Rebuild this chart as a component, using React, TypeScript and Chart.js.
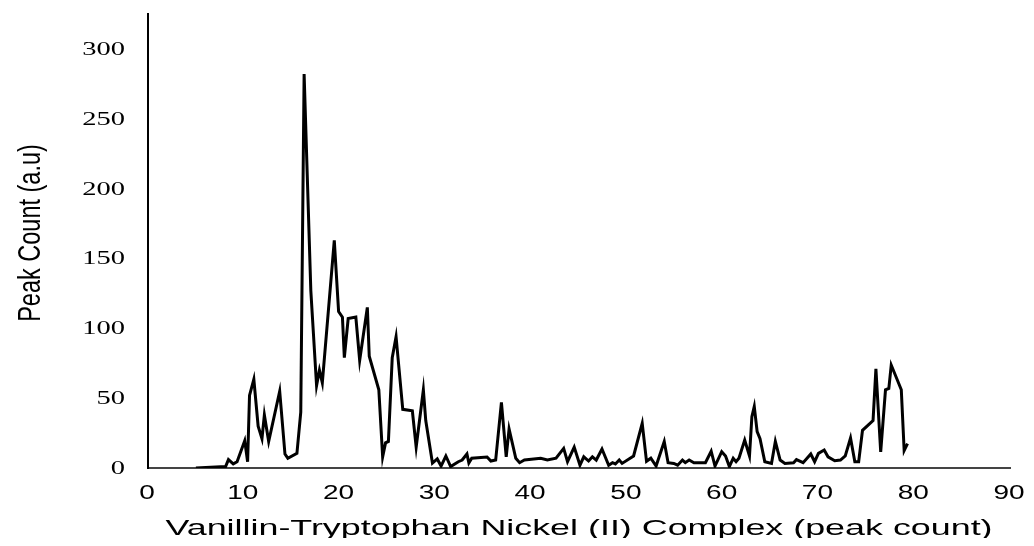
import React, { useEffect, useRef } from "react";
import { Chart, registerables } from "chart.js";

Chart.register(...registerables);

const xValues: number[] = [
  5.0, 8.1, 8.4, 8.9, 9.3, 10.1, 10.4, 10.6, 11.05, 11.5, 11.9, 12.15, 12.6, 13.75, 14.3, 14.6, 15.55, 15.95,
  16.3, 17.0, 17.6, 17.9, 18.2, 19.45, 19.9, 20.3, 20.5, 20.9, 21.7, 22.1, 22.9, 23.1, 24.1, 24.5, 24.8, 25.1,
  25.5, 25.9, 26.6, 27.6, 28.0, 28.75, 29.0, 29.7, 30.2, 30.6, 31.1, 31.6, 32.4, 32.8, 33.3, 33.5, 33.8, 35.4,
  35.8, 36.3, 36.9, 37.4, 37.7, 38.4, 38.8, 39.3, 41.0, 41.7, 42.6, 43.4, 43.8, 44.5, 45.1, 45.5, 46.0, 46.4,
  46.8, 47.4, 48.1, 48.5, 48.8, 49.2, 49.5, 50.7, 51.6, 52.05, 52.5, 53.05, 53.9, 54.3, 54.9, 55.3, 55.8, 56.1,
  56.5, 57.0, 58.2, 58.8, 59.2, 59.9, 60.3, 60.7, 61.1, 61.4, 61.7, 62.3, 62.8, 63.05, 63.3, 63.6, 63.9, 64.4,
  65.1, 65.5, 66.0, 66.5, 67.4, 67.7, 68.4, 69.2, 69.6, 70.0, 70.6, 71.0, 71.7, 72.3, 72.8, 73.35, 73.8, 74.2,
  74.6, 75.7, 76.0, 76.5, 77.0, 77.35, 77.6, 78.65, 78.95, 79.3,
];

const peakValues: number[] = [
  0, 1, 6, 3, 4.5, 19.5, 4.5, 52, 63.5, 30, 21, 38, 19, 55, 10, 7, 10.5, 40,
  282, 127, 59, 70, 61, 163, 112, 108, 79, 107, 108, 77, 115, 80, 56, 8, 18, 19,
  79, 94, 42, 41, 15, 56, 34, 3.5, 6.5, 1.4, 8.6, 1, 4.5, 5.7, 10, 3.6, 7, 7.9,
  5, 5.7, 47, 8, 28, 7, 3.8, 5.7, 7, 5.7, 7, 14, 4.5, 15, 2, 8, 5, 8,
  5.7, 13.6, 2, 3.8, 2.9, 5.7, 3.3, 8.6, 32, 4.8, 7, 1.4, 19, 3.8, 3.3, 2, 5.7, 3.8,
  5.7, 3.8, 3.8, 12, 1.4, 11.7, 8.6, 1, 7, 4.5, 7, 20, 8.6, 36.7, 44, 26, 21, 4.5,
  3.3, 19, 5.7, 3.3, 3.8, 6, 3.8, 10, 4.5, 10.5, 12.9, 8, 5.2, 5.7, 8.6, 21.5, 4.5, 4.5,
  27, 34, 71, 11.5, 56, 57, 73.7, 56, 12.5, 17.5,
];

const xTicks: number[] = [0, 10, 20, 30, 40, 50, 60, 70, 80, 90];
const yTicks: number[] = [0, 50, 100, 150, 200, 250, 300];

const xTitle = "Vanillin-Tryptophan Nickel (II) Complex (peak count)";
const yTitle = "Peak Count (a.u)";

const stretchedText = {
  id: "stretchedText",
  afterDraw(chart: any) {
    const ctx = chart.ctx;
    const xs = chart.scales.x;
    const ys = chart.scales.y;
    const area = chart.chartArea;
    ctx.save();
    ctx.fillStyle = "#000";

    // y tick labels (serif, stretched horizontally)
    ctx.font = '19px "Liberation Serif"';
    ctx.textAlign = "right";
    ctx.textBaseline = "middle";
    yTicks.forEach((v) => {
      const py = ys.getPixelForValue(v);
      ctx.save();
      ctx.translate(area.left - 23, py + 1);
      ctx.scale(1.5, 1);
      ctx.fillText(String(v), 0, 0);
      ctx.restore();
    });

    // x tick labels
    ctx.font = '20px "Liberation Sans"';
    ctx.textAlign = "center";
    ctx.textBaseline = "alphabetic";
    xTicks.forEach((v) => {
      const px = xs.getPixelForValue(v);
      ctx.save();
      ctx.translate(px - 1, area.bottom + 31);
      ctx.scale(1.4, 1);
      ctx.fillText(String(v), 0, 0);
      ctx.restore();
    });

    // x title
    ctx.font = '22px "Liberation Sans"';
    ctx.save();
    ctx.translate((area.left + area.right) / 2, area.bottom + 67);
    ctx.scale(1.63, 1);
    ctx.fillText(xTitle, 0, 0);
    ctx.restore();

    // y title
    ctx.font = '23.5px "Liberation Sans"';
    ctx.textBaseline = "middle";
    ctx.save();
    ctx.translate(23, 225);
    ctx.scale(1.35, 1);
    ctx.rotate(-Math.PI / 2);
    ctx.fillText(yTitle, 0, 0);
    ctx.restore();

    ctx.restore();
  },
};

export default function App() {
  const canvasRef = useRef<HTMLCanvasElement | null>(null);

  useEffect(() => {
    if (!canvasRef.current) return;
    const points = xValues.map((x, i) => ({ x, y: peakValues[i] }));
    const chart = new Chart(canvasRef.current, {
      type: "line",
      data: {
        datasets: [
          {
            data: points,
            borderColor: "#000",
            borderWidth: 3,
            pointRadius: 0,
            tension: 0,
            fill: false,
          },
        ],
      },
      options: {
        animation: false,
        responsive: false,
        layout: { padding: { top: 6, right: 16, left: 0, bottom: 0 } },
        plugins: { legend: { display: false }, tooltip: { enabled: false } },
        scales: {
          x: {
            type: "linear",
            min: 0,
            max: 90,
            afterBuildTicks: (s: any) => {
              s.ticks = xTicks.map((v) => ({ value: v }));
            },
            afterFit: (s: any) => {
              s.height = 70;
            },
            ticks: { display: false },
            grid: { display: false },
            border: { display: true, color: "#444", width: 2 },
          },
          y: {
            type: "linear",
            min: 0,
            max: 325,
            afterBuildTicks: (s: any) => {
              s.ticks = yTicks.map((v) => ({ value: v }));
            },
            afterFit: (s: any) => {
              s.width = 140;
            },
            ticks: { display: false },
            grid: { display: false },
            border: { display: true, color: "#000", width: 2 },
          },
        },
      },
      plugins: [stretchedText],
    });
    return () => chart.destroy();
  }, []);

  return (
    <div style={{ width: 1018, height: 530 }}>
      <canvas ref={canvasRef} width={1018} height={530} style={{ display: "block" }} />
    </div>
  );
}
